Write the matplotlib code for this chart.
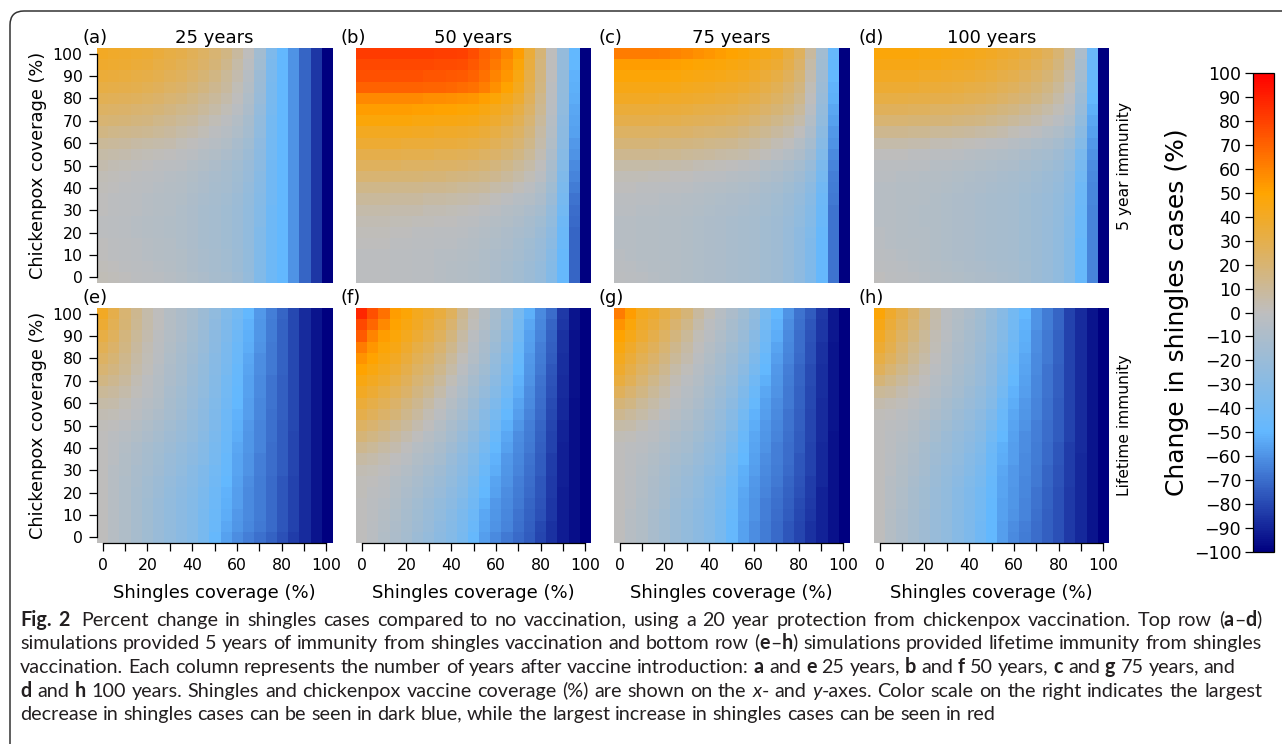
import math
import re
import numpy as np
import matplotlib
matplotlib.use("Agg")
import matplotlib.pyplot as plt
from matplotlib.colors import LinearSegmentedColormap, Normalize
from matplotlib.cm import ScalarMappable
from matplotlib.patches import FancyBboxPatch
from matplotlib.transforms import IdentityTransform
from matplotlib.font_manager import FontProperties

# ------------------------------------------------------------------
# DATA: percent change in shingles cases
# rows = chickenpox coverage 100 -> 0 (step 5), cols = shingles coverage 0 -> 100 (step 5)

coverage = list(range(0, 101, 5))
years = [25, 50, 75, 100]
letters = ["a", "b", "c", "d", "e", "f", "g", "h"]
immunity = ["5 year immunity", "Lifetime immunity"]

panel_a = [
    [40, 39, 38, 37, 36, 34, 32, 30, 27, 24, 20, 15, 8, 0, -15, -35, -50, -60, -72, -85, -100],
    [38, 37, 36, 35, 34, 32, 30, 28, 25, 22, 18, 13, 6, -2, -16, -36, -50, -60, -72, -85, -100],
    [35, 34, 33, 32, 31, 29, 27, 25, 22, 19, 15, 10, 4, -4, -18, -37, -50, -60, -72, -85, -100],
    [32, 31, 30, 29, 28, 26, 24, 22, 19, 16, 12, 8, 2, -6, -19, -38, -50, -60, -72, -85, -100],
    [28, 27, 26, 25, 24, 22, 20, 18, 15, 12, 9, 5, 0, -8, -20, -38, -50, -60, -72, -85, -100],
    [24, 23, 22, 21, 20, 18, 16, 14, 12, 9, 6, 2, -3, -10, -22, -39, -50, -60, -72, -85, -100],
    [20, 19, 18, 17, 16, 14, 12, 10, 8, 5, 2, -1, -6, -12, -24, -40, -50, -60, -72, -85, -100],
    [15, 14, 13, 12, 11, 10, 8, 6, 4, 2, -1, -4, -8, -14, -25, -40, -50, -60, -72, -85, -100],
    [10, 9, 8, 7, 6, 5, 4, 2, 0, -2, -4, -7, -11, -16, -26, -41, -50, -60, -72, -85, -100],
    [6, 5, 4, 3, 2, 1, 0, -1, -3, -5, -7, -10, -13, -18, -27, -41, -50, -60, -72, -85, -100],
    [4, 3, 2, 1, 0, -1, -2, -3, -5, -7, -9, -12, -15, -20, -28, -42, -50, -60, -72, -85, -100],
    [2, 1, 0, -1, -2, -3, -4, -5, -7, -9, -11, -13, -16, -21, -29, -42, -50, -60, -72, -85, -100],
    [1, 0, -1, -2, -3, -4, -5, -6, -8, -10, -12, -14, -17, -22, -30, -42, -50, -60, -72, -85, -100],
    [0, -1, -2, -3, -4, -5, -6, -7, -9, -11, -13, -15, -18, -23, -31, -42, -50, -60, -72, -85, -100],
    [0, -1, -2, -3, -4, -5, -6, -8, -10, -12, -14, -16, -19, -24, -32, -43, -50, -60, -72, -85, -100],
    [-1, -2, -3, -4, -5, -6, -7, -8, -10, -12, -14, -16, -19, -24, -32, -43, -50, -60, -72, -85, -100],
    [-1, -2, -3, -4, -5, -6, -7, -8, -10, -12, -14, -16, -19, -24, -33, -43, -50, -60, -72, -85, -100],
    [0, -1, -2, -3, -4, -5, -6, -8, -10, -12, -14, -16, -19, -24, -33, -43, -50, -60, -72, -85, -100],
    [0, -1, -2, -3, -4, -5, -6, -7, -9, -11, -13, -15, -18, -23, -33, -43, -50, -60, -72, -85, -100],
    [1, 0, -1, -2, -3, -4, -5, -7, -9, -11, -13, -15, -18, -23, -33, -43, -50, -60, -72, -85, -100],
    [2, 1, 0, -1, -2, -3, -4, -6, -8, -10, -12, -14, -17, -22, -33, -43, -50, -60, -72, -85, -100],
]

panel_b = [
    [82, 82, 82, 82, 82, 82, 82, 81, 81, 80, 76, 70, 66, 60, 52, 35, 18, 0, -22, -50, -100],
    [78, 78, 78, 78, 78, 78, 78, 77, 77, 76, 73, 68, 63, 57, 48, 33, 17, 0, -22, -50, -100],
    [75, 75, 75, 75, 75, 75, 74, 74, 73, 72, 70, 65, 60, 54, 45, 31, 16, 0, -23, -51, -100],
    [70, 70, 70, 70, 70, 70, 69, 69, 68, 67, 65, 61, 56, 50, 42, 29, 15, -1, -23, -52, -100],
    [58, 58, 58, 58, 58, 58, 57, 57, 56, 55, 54, 51, 48, 43, 37, 26, 13, -2, -24, -53, -100],
    [52, 52, 52, 52, 52, 51, 51, 50, 50, 49, 48, 45, 42, 38, 32, 23, 11, -3, -25, -54, -100],
    [47, 47, 47, 47, 47, 46, 46, 45, 45, 44, 43, 40, 37, 33, 28, 20, 9, -4, -26, -55, -100],
    [41, 41, 41, 41, 41, 40, 40, 39, 39, 38, 37, 35, 32, 28, 24, 17, 7, -5, -27, -56, -100],
    [36, 36, 36, 36, 35, 35, 35, 34, 34, 33, 32, 30, 27, 24, 20, 14, 5, -7, -28, -58, -100],
    [30, 30, 30, 30, 29, 29, 29, 28, 28, 27, 26, 24, 22, 19, 15, 10, 3, -9, -30, -60, -100],
    [25, 25, 25, 25, 24, 24, 24, 23, 23, 22, 21, 19, 17, 14, 10, 6, 0, -11, -32, -62, -100],
    [20, 20, 20, 19, 19, 19, 18, 18, 17, 16, 15, 14, 12, 9, 6, 2, -3, -13, -34, -64, -100],
    [14, 14, 14, 13, 13, 13, 12, 12, 11, 10, 9, 8, 6, 4, 1, -2, -7, -16, -36, -66, -100],
    [9, 9, 9, 8, 8, 8, 7, 7, 6, 5, 4, 3, 1, -1, -4, -6, -10, -19, -39, -68, -100],
    [5, 5, 5, 4, 4, 4, 3, 3, 2, 1, 0, -1, -3, -5, -7, -10, -13, -22, -41, -70, -100],
    [3, 3, 3, 2, 2, 1, 1, 0, 0, -1, -2, -4, -5, -7, -9, -12, -16, -24, -43, -71, -100],
    [1, 1, 1, 0, 0, -1, -1, -2, -2, -3, -4, -6, -7, -9, -11, -14, -18, -26, -45, -72, -100],
    [0, 0, 0, -1, -1, -2, -2, -3, -3, -4, -5, -7, -8, -10, -13, -16, -20, -28, -46, -72, -100],
    [-1, -1, -1, -2, -2, -3, -3, -4, -4, -5, -6, -8, -9, -11, -14, -17, -21, -30, -47, -72, -100],
    [-1, -1, -1, -2, -2, -3, -3, -4, -5, -6, -7, -8, -10, -12, -15, -18, -22, -31, -48, -72, -100],
    [-1, -1, -1, -2, -2, -3, -3, -4, -5, -6, -7, -8, -10, -12, -15, -18, -22, -32, -48, -72, -100],
]

panel_c = [
    [62, 62, 62, 62, 61, 60, 58, 56, 54, 52, 50, 48, 46, 43, 40, 33, 25, 8, -15, -48, -100],
    [52, 52, 52, 52, 52, 51, 50, 49, 48, 47, 46, 44, 42, 39, 36, 30, 22, 6, -16, -49, -100],
    [48, 48, 48, 48, 48, 47, 46, 45, 44, 43, 42, 40, 38, 35, 32, 26, 19, 4, -17, -50, -100],
    [44, 44, 44, 44, 44, 43, 42, 41, 40, 39, 38, 36, 34, 31, 28, 22, 16, 2, -18, -51, -100],
    [40, 40, 40, 40, 39, 39, 38, 37, 36, 35, 34, 32, 30, 27, 24, 19, 13, 0, -20, -52, -100],
    [35, 35, 35, 35, 34, 34, 33, 32, 31, 30, 29, 27, 25, 22, 19, 15, 9, -3, -22, -54, -100],
    [30, 30, 30, 30, 29, 29, 28, 27, 26, 25, 24, 22, 20, 17, 14, 10, 5, -6, -24, -56, -100],
    [24, 24, 24, 24, 23, 23, 22, 21, 20, 19, 18, 16, 14, 11, 8, 5, 0, -9, -27, -58, -100],
    [18, 18, 18, 18, 17, 17, 16, 15, 14, 13, 12, 10, 8, 6, 3, 0, -5, -13, -30, -60, -100],
    [12, 12, 12, 12, 11, 11, 10, 9, 8, 7, 6, 5, 3, 1, -2, -5, -9, -17, -33, -62, -100],
    [6, 6, 6, 6, 5, 5, 4, 3, 2, 1, 0, -1, -3, -5, -7, -10, -14, -21, -36, -64, -100],
    [2, 2, 2, 1, 1, 0, 0, -1, -2, -3, -4, -5, -6, -8, -10, -13, -17, -24, -39, -65, -100],
    [0, 0, -1, -1, -2, -2, -3, -4, -5, -6, -7, -8, -9, -11, -13, -16, -20, -27, -42, -66, -100],
    [-2, -2, -3, -3, -4, -4, -5, -6, -7, -8, -9, -10, -11, -13, -15, -18, -22, -29, -44, -67, -100],
    [-3, -3, -4, -4, -5, -5, -6, -7, -8, -9, -10, -11, -12, -14, -16, -19, -24, -31, -45, -68, -100],
    [-4, -4, -5, -5, -6, -6, -7, -8, -9, -10, -11, -12, -13, -15, -17, -20, -25, -32, -46, -68, -100],
    [-4, -4, -5, -5, -6, -6, -7, -8, -9, -10, -11, -12, -13, -15, -17, -21, -26, -33, -47, -68, -100],
    [-4, -4, -5, -5, -6, -6, -7, -8, -9, -10, -11, -12, -13, -15, -17, -21, -26, -34, -48, -68, -100],
    [-3, -4, -5, -5, -6, -6, -7, -8, -9, -10, -11, -12, -13, -15, -17, -21, -26, -34, -48, -68, -100],
    [-2, -3, -4, -5, -5, -6, -7, -8, -9, -10, -11, -12, -13, -15, -17, -21, -26, -34, -48, -68, -100],
    [-1, -2, -3, -4, -5, -6, -7, -8, -9, -10, -11, -12, -13, -15, -17, -21, -26, -34, -48, -68, -100],
]

panel_d = [
    [47, 47, 47, 47, 46, 46, 45, 44, 43, 42, 40, 38, 36, 33, 30, 26, 20, 10, -10, -45, -100],
    [44, 44, 44, 44, 43, 43, 42, 41, 40, 39, 37, 35, 33, 30, 27, 23, 17, 8, -12, -46, -100],
    [40, 40, 40, 40, 39, 39, 38, 37, 36, 35, 33, 31, 29, 26, 23, 19, 14, 5, -14, -47, -100],
    [36, 36, 36, 36, 35, 35, 34, 33, 32, 31, 29, 27, 25, 22, 19, 15, 10, 2, -16, -48, -100],
    [32, 32, 32, 31, 31, 30, 30, 29, 28, 27, 25, 23, 21, 18, 15, 11, 6, -1, -18, -50, -100],
    [26, 26, 26, 25, 25, 24, 24, 23, 22, 21, 19, 17, 15, 12, 9, 6, 2, -4, -21, -52, -100],
    [20, 20, 20, 19, 19, 18, 18, 17, 16, 15, 13, 11, 9, 7, 4, 1, -3, -8, -24, -54, -100],
    [12, 12, 12, 11, 11, 10, 10, 9, 8, 7, 6, 4, 2, 0, -2, -5, -8, -13, -28, -56, -100],
    [5, 5, 5, 4, 4, 3, 3, 2, 1, 0, -1, -2, -4, -6, -8, -10, -13, -18, -32, -58, -100],
    [0, 0, 0, -1, -1, -2, -2, -3, -4, -5, -6, -7, -8, -10, -12, -14, -17, -22, -36, -60, -100],
    [-2, -2, -2, -3, -3, -4, -4, -5, -6, -7, -8, -9, -10, -12, -14, -16, -19, -25, -39, -61, -100],
    [-3, -3, -4, -4, -5, -5, -6, -7, -8, -9, -10, -11, -12, -14, -16, -18, -21, -27, -41, -62, -100],
    [-4, -4, -5, -5, -6, -6, -7, -8, -9, -10, -11, -12, -13, -15, -17, -19, -22, -28, -43, -63, -100],
    [-4, -4, -5, -5, -6, -7, -8, -9, -10, -11, -12, -13, -14, -16, -18, -20, -23, -29, -44, -63, -100],
    [-4, -4, -5, -6, -7, -7, -8, -9, -10, -11, -12, -13, -14, -16, -18, -20, -24, -30, -45, -64, -100],
    [-4, -4, -5, -6, -7, -7, -8, -9, -10, -11, -12, -13, -14, -16, -18, -21, -24, -31, -46, -64, -100],
    [-3, -4, -5, -6, -6, -7, -8, -9, -10, -11, -12, -13, -14, -16, -18, -21, -25, -31, -46, -64, -100],
    [-3, -4, -5, -5, -6, -7, -8, -9, -10, -11, -12, -13, -14, -16, -18, -21, -25, -32, -47, -64, -100],
    [-2, -3, -4, -5, -6, -7, -8, -9, -10, -11, -12, -13, -14, -16, -18, -21, -25, -32, -47, -64, -100],
    [-1, -2, -3, -4, -5, -6, -7, -8, -9, -10, -11, -12, -13, -15, -18, -21, -25, -32, -47, -64, -100],
    [0, -1, -2, -3, -4, -5, -6, -7, -8, -9, -10, -11, -12, -15, -18, -21, -25, -32, -47, -64, -100],
]

panel_e = [
    [40, 30, 20, 12, 5, 0, -5, -9, -13, -18, -25, -33, -40, -50, -58, -65, -72, -80, -88, -94, -100],
    [36, 28, 19, 11, 5, 0, -5, -9, -14, -19, -26, -34, -42, -51, -59, -66, -73, -80, -88, -94, -100],
    [32, 25, 17, 10, 4, -1, -6, -10, -15, -20, -27, -35, -43, -52, -59, -66, -73, -80, -88, -94, -100],
    [28, 22, 15, 8, 3, -2, -7, -11, -16, -21, -28, -36, -45, -53, -60, -67, -73, -80, -88, -94, -100],
    [24, 19, 13, 7, 2, -3, -8, -12, -17, -22, -29, -37, -46, -54, -61, -67, -73, -80, -88, -94, -100],
    [20, 16, 11, 5, 1, -4, -9, -13, -18, -23, -30, -38, -47, -55, -61, -67, -73, -80, -88, -94, -100],
    [15, 12, 8, 3, -1, -5, -10, -14, -19, -24, -31, -40, -48, -56, -62, -68, -74, -80, -88, -94, -100],
    [10, 8, 5, 1, -2, -6, -11, -15, -20, -25, -32, -41, -49, -56, -62, -68, -74, -80, -88, -94, -100],
    [6, 5, 2, -1, -4, -7, -12, -16, -21, -26, -33, -42, -50, -57, -63, -68, -74, -80, -88, -94, -100],
    [3, 2, 0, -3, -6, -9, -13, -17, -22, -27, -34, -43, -51, -57, -63, -69, -74, -80, -88, -94, -100],
    [1, 0, -2, -5, -8, -11, -15, -19, -23, -28, -35, -44, -52, -58, -64, -69, -75, -80, -88, -94, -100],
    [0, -2, -4, -7, -10, -13, -17, -20, -24, -29, -36, -45, -53, -59, -64, -69, -75, -81, -88, -94, -100],
    [0, -3, -6, -9, -12, -15, -18, -22, -26, -31, -38, -46, -54, -59, -64, -70, -75, -81, -88, -94, -100],
    [0, -3, -7, -10, -13, -16, -20, -23, -27, -32, -39, -47, -55, -60, -65, -70, -75, -81, -88, -94, -100],
    [0, -4, -7, -11, -14, -17, -21, -25, -29, -34, -41, -48, -55, -60, -65, -70, -75, -81, -88, -94, -100],
    [0, -4, -8, -11, -15, -18, -22, -26, -30, -35, -42, -50, -56, -61, -66, -71, -76, -82, -88, -94, -100],
    [0, -4, -8, -12, -15, -19, -23, -27, -31, -36, -43, -51, -57, -62, -66, -71, -76, -82, -88, -94, -100],
    [0, -4, -8, -12, -16, -20, -24, -28, -32, -37, -44, -52, -57, -62, -66, -71, -76, -82, -88, -94, -100],
    [0, -4, -8, -12, -16, -20, -24, -28, -32, -38, -45, -53, -58, -62, -66, -71, -76, -82, -88, -94, -100],
    [0, -4, -8, -12, -16, -20, -24, -28, -32, -38, -46, -54, -59, -63, -67, -71, -76, -82, -88, -94, -100],
    [0, -4, -8, -12, -16, -20, -24, -28, -32, -38, -48, -56, -61, -65, -69, -73, -78, -83, -88, -94, -100],
]

panel_f = [
    [88, 75, 65, 52, 48, 42, 38, 33, 25, 12, 3, -5, -12, -22, -38, -52, -62, -70, -84, -94, -100],
    [78, 68, 58, 50, 45, 40, 35, 29, 21, 10, 1, -7, -14, -24, -40, -54, -63, -72, -85, -94, -100],
    [72, 60, 52, 47, 42, 36, 31, 25, 17, 7, -2, -9, -16, -27, -42, -56, -64, -73, -86, -95, -100],
    [62, 54, 48, 44, 38, 32, 27, 21, 13, 4, -4, -11, -19, -30, -45, -57, -65, -74, -86, -95, -100],
    [55, 50, 45, 40, 34, 28, 23, 17, 9, 1, -6, -13, -22, -33, -47, -58, -66, -75, -87, -95, -100],
    [50, 46, 41, 36, 30, 24, 19, 13, 6, -2, -9, -16, -25, -36, -49, -59, -67, -76, -87, -95, -100],
    [45, 41, 37, 32, 26, 20, 15, 9, 2, -5, -12, -19, -28, -39, -51, -60, -68, -77, -88, -95, -100],
    [40, 36, 32, 27, 22, 16, 11, 5, -2, -8, -15, -22, -31, -42, -53, -61, -69, -78, -88, -95, -100],
    [35, 31, 27, 22, 17, 12, 7, 1, -5, -11, -18, -26, -35, -46, -55, -62, -70, -79, -89, -96, -100],
    [30, 26, 22, 18, 13, 8, 3, -2, -8, -14, -21, -29, -38, -49, -57, -64, -71, -80, -89, -96, -100],
    [24, 21, 17, 13, 9, 4, 0, -5, -11, -17, -24, -32, -42, -52, -59, -65, -72, -81, -90, -96, -100],
    [18, 15, 12, 8, 4, 0, -4, -8, -14, -20, -27, -35, -46, -54, -61, -66, -73, -82, -90, -96, -100],
    [12, 10, 7, 4, 0, -4, -7, -11, -17, -23, -30, -39, -49, -56, -62, -67, -74, -82, -91, -96, -100],
    [7, 5, 3, 0, -3, -7, -10, -14, -20, -26, -33, -42, -51, -58, -63, -68, -75, -83, -91, -96, -100],
    [3, 2, 0, -3, -6, -9, -13, -17, -22, -28, -35, -45, -53, -59, -64, -69, -75, -83, -91, -96, -100],
    [1, 0, -2, -5, -8, -11, -15, -19, -24, -30, -38, -48, -55, -60, -65, -70, -76, -84, -91, -96, -100],
    [1, -1, -3, -6, -10, -13, -17, -21, -26, -32, -40, -50, -56, -61, -66, -71, -76, -84, -92, -96, -100],
    [0, -2, -4, -7, -11, -15, -19, -23, -28, -34, -42, -52, -58, -62, -67, -72, -77, -85, -92, -96, -100],
    [0, -2, -5, -8, -12, -16, -20, -25, -30, -36, -44, -54, -59, -63, -68, -73, -78, -85, -92, -96, -100],
    [0, -3, -6, -9, -13, -17, -21, -26, -31, -37, -46, -55, -60, -64, -69, -74, -80, -86, -92, -96, -100],
    [0, -3, -7, -10, -14, -18, -22, -27, -32, -38, -48, -57, -62, -67, -71, -75, -81, -86, -92, -96, -100],
]

panel_g = [
    [62, 52, 42, 38, 32, 25, 18, 8, 2, -4, -10, -16, -24, -38, -50, -60, -68, -75, -84, -93, -100],
    [55, 47, 39, 34, 28, 21, 14, 5, -1, -6, -12, -18, -26, -40, -51, -61, -69, -76, -85, -93, -100],
    [50, 43, 36, 30, 24, 17, 10, 2, -3, -8, -14, -20, -29, -42, -53, -62, -70, -77, -85, -93, -100],
    [46, 39, 32, 26, 20, 13, 7, 0, -5, -10, -16, -22, -32, -44, -55, -63, -70, -78, -86, -94, -100],
    [42, 35, 28, 22, 16, 10, 4, -2, -7, -12, -18, -25, -35, -47, -57, -64, -71, -78, -86, -94, -100],
    [38, 31, 24, 18, 12, 6, 1, -4, -9, -14, -20, -28, -38, -50, -58, -65, -72, -79, -87, -94, -100],
    [33, 27, 20, 14, 8, 3, -2, -6, -11, -16, -22, -31, -42, -52, -59, -66, -72, -79, -87, -94, -100],
    [26, 21, 15, 10, 5, 0, -4, -8, -13, -18, -25, -34, -45, -54, -60, -67, -73, -80, -87, -94, -100],
    [18, 15, 10, 6, 2, -2, -6, -10, -15, -20, -27, -37, -48, -56, -61, -67, -73, -80, -88, -94, -100],
    [12, 9, 6, 3, -1, -4, -8, -12, -17, -22, -30, -40, -51, -57, -62, -68, -74, -81, -88, -94, -100],
    [6, 5, 2, -1, -4, -7, -10, -14, -19, -24, -32, -43, -53, -58, -63, -68, -74, -81, -88, -94, -100],
    [2, 1, -1, -3, -6, -9, -12, -16, -21, -26, -35, -46, -54, -59, -64, -69, -75, -81, -88, -95, -100],
    [0, -1, -3, -5, -8, -11, -14, -18, -23, -28, -37, -48, -55, -60, -65, -70, -75, -82, -89, -95, -100],
    [0, -2, -4, -7, -10, -13, -16, -20, -25, -30, -40, -50, -56, -61, -65, -70, -76, -82, -89, -95, -100],
    [0, -2, -5, -8, -11, -15, -18, -22, -27, -32, -42, -52, -57, -62, -66, -71, -76, -82, -89, -95, -100],
    [0, -3, -6, -9, -12, -16, -20, -24, -29, -34, -44, -53, -58, -63, -67, -72, -77, -83, -89, -95, -100],
    [0, -3, -6, -10, -13, -17, -21, -25, -30, -36, -45, -54, -59, -64, -68, -73, -78, -83, -90, -95, -100],
    [0, -3, -7, -10, -14, -18, -22, -26, -31, -37, -46, -55, -60, -65, -69, -74, -79, -84, -90, -95, -100],
    [0, -4, -7, -11, -15, -19, -23, -27, -32, -38, -47, -55, -60, -65, -70, -75, -80, -85, -90, -95, -100],
    [0, -4, -7, -11, -15, -19, -23, -27, -32, -38, -48, -56, -61, -66, -71, -76, -81, -86, -90, -95, -100],
    [0, -4, -7, -11, -15, -19, -23, -27, -32, -38, -48, -56, -61, -66, -71, -76, -81, -86, -90, -95, -100],
]

panel_h = [
    [48, 38, 30, 22, 14, 5, -2, -6, -10, -15, -22, -30, -40, -50, -60, -66, -72, -82, -88, -94, -100],
    [44, 35, 27, 20, 12, 4, -3, -7, -11, -16, -23, -31, -41, -51, -60, -66, -72, -82, -88, -94, -100],
    [40, 32, 24, 17, 10, 3, -3, -8, -12, -17, -24, -32, -42, -52, -61, -67, -73, -82, -88, -94, -100],
    [36, 29, 21, 14, 8, 2, -4, -9, -13, -18, -25, -33, -43, -53, -61, -67, -73, -82, -88, -94, -100],
    [32, 25, 18, 11, 6, 0, -5, -10, -14, -19, -26, -35, -45, -54, -62, -67, -73, -82, -88, -94, -100],
    [26, 20, 14, 8, 3, -2, -6, -11, -15, -20, -27, -36, -47, -55, -62, -68, -74, -82, -88, -94, -100],
    [18, 14, 9, 4, 0, -4, -8, -12, -16, -21, -28, -38, -49, -56, -63, -68, -74, -82, -88, -94, -100],
    [10, 8, 4, 1, -2, -6, -10, -14, -18, -23, -30, -40, -51, -57, -63, -68, -74, -82, -88, -94, -100],
    [4, 3, 1, -2, -5, -8, -12, -16, -20, -25, -32, -43, -53, -58, -64, -69, -75, -82, -88, -94, -100],
    [1, 0, -2, -4, -7, -10, -14, -18, -22, -27, -35, -46, -54, -59, -64, -69, -75, -82, -88, -94, -100],
    [0, -1, -3, -6, -9, -12, -16, -20, -24, -29, -38, -48, -55, -60, -65, -70, -75, -82, -88, -94, -100],
    [0, -2, -4, -7, -10, -14, -18, -22, -26, -31, -41, -50, -56, -61, -65, -70, -75, -82, -88, -94, -100],
    [0, -2, -5, -8, -12, -16, -19, -23, -28, -33, -43, -52, -57, -61, -66, -71, -76, -83, -88, -94, -100],
    [0, -3, -6, -9, -13, -17, -21, -25, -30, -35, -45, -53, -57, -62, -66, -71, -76, -83, -89, -94, -100],
    [0, -3, -7, -10, -14, -18, -22, -26, -31, -37, -46, -54, -58, -62, -67, -72, -77, -83, -89, -94, -100],
    [0, -4, -7, -11, -15, -19, -23, -28, -33, -38, -47, -55, -58, -63, -67, -72, -77, -83, -89, -94, -100],
    [0, -4, -8, -12, -16, -20, -24, -29, -34, -40, -48, -55, -59, -63, -68, -73, -78, -84, -89, -94, -100],
    [0, -4, -8, -12, -16, -20, -24, -29, -34, -40, -49, -56, -59, -64, -68, -73, -78, -84, -89, -94, -100],
    [0, -5, -9, -13, -17, -21, -25, -30, -35, -41, -50, -56, -60, -64, -69, -74, -78, -84, -89, -94, -100],
    [0, -5, -9, -13, -17, -21, -25, -30, -35, -42, -50, -57, -61, -65, -70, -74, -78, -84, -89, -94, -100],
    [0, -5, -9, -13, -17, -21, -25, -30, -35, -42, -50, -57, -62, -66, -70, -74, -78, -84, -89, -94, -100],
]

panels = [panel_a, panel_b, panel_c, panel_d, panel_e, panel_f, panel_g, panel_h]

# caption: (text, style) pieces, style b = bold, i = italic, r = regular
caption = [
    [("Fig. 2", "b"), ("  Percent change in shingles cases compared to no vaccination, using a 20 year "
                       "protection from chickenpox vaccination. Top row (", "r"),
     ("a", "b"), ("\u2013", "r"), ("d", "b"), (")", "r")],
    [("simulations provided 5 years of immunity from shingles vaccination and bottom row (", "r"),
     ("e", "b"), ("\u2013", "r"), ("h", "b"),
     (") simulations provided lifetime immunity from shingles", "r")],
    [("vaccination. Each column represents the number of years after vaccine introduction:", "r"),
     (" a", "b"), (" and", "r"), (" e", "b"), (" 25 years,", "r"), (" b", "b"), (" and", "r"),
     (" f", "b"), (" 50 years,", "r"), (" c", "b"), (" and", "r"), (" g", "b"),
     (" 75 years, and", "r")],
    [("d", "b"), (" and", "r"), (" h", "b"),
     (" 100 years. Shingles and chickenpox vaccine coverage (%) are shown on the", "r"),
     (" x", "i"), ("- and", "r"), (" y", "i"),
     ("-axes. Color scale on the right indicates the largest", "r")],
    [("decrease in shingles cases can be seen in dark blue, while the largest increase in "
      "shingles cases can be seen in red", "r")],
]
justified = [True, True, False, True, False]

# ------------------------------------------------------------------
# FIGURE (layout in pixels of a 1282x744 image)

W, H = 1282, 744
plt.rcParams["font.family"] = "DejaVu Sans"
fig = plt.figure(figsize=(W / 100, H / 100), dpi=100)

cmap = LinearSegmentedColormap.from_list(
    "shingles", ["#000080", "#63B8FF", "#BEBEBE", "#FFA500", "#FF0000"])
norm = Normalize(vmin=-100, vmax=100)


def axes_px(left, top, width, height):
    return fig.add_axes([left / W, 1 - (top + height) / H, width / W, height / H])


def text_px(x, y, s, **kw):
    return fig.text(x / W, 1 - y / H, s, **kw)


col_left = [97, 356, 614, 874]
row_top = [48, 308]
side = 235
half = (coverage[1] - coverage[0]) / 2

for i, data in enumerate(panels):
    r, c = divmod(i, 4)
    ax = axes_px(col_left[c], row_top[r], side, side)
    ax.imshow(np.array(data), cmap=cmap, norm=norm, origin="upper", aspect="auto",
              interpolation="nearest",
              extent=(coverage[0] - half, coverage[-1] + half,
                      coverage[0] - half, coverage[-1] + half))
    for s in ax.spines.values():
        s.set_visible(False)
    ax.set_xticks([])
    ax.set_yticks([])
    if c == 0:
        ax.spines["left"].set_visible(True)
        ax.spines["left"].set_bounds(0, 100)
        ax.spines["left"].set_linewidth(0.9)
        ax.set_yticks(range(0, 101, 10))
        ax.tick_params(axis="y", length=5.5, width=0.9, pad=5, labelsize=11.3)
    if r == 1:
        ax.spines["bottom"].set_visible(True)
        ax.spines["bottom"].set_bounds(0, 100)
        ax.spines["bottom"].set_linewidth(0.9)
        ax.set_xticks(range(0, 101, 10))
        ax.set_xticklabels([str(v) if v % 20 == 0 else "" for v in range(0, 101, 10)])
        ax.tick_params(axis="x", length=5.5, width=0.9, pad=5, labelsize=11.3)
        text_px(col_left[c] + side / 2, 593, "Shingles coverage (%)",
                fontsize=13, ha="center", va="center")
    ty = row_top[r] - 10
    text_px(col_left[c] - 15, ty, "(%s)" % letters[i], fontsize=13, ha="left", va="center")
    if r == 0:
        text_px(col_left[c] + side / 2, ty, "%d years" % years[c],
                fontsize=13, ha="center", va="center")

for r in range(2):
    cy = row_top[r] + side / 2
    text_px(38, cy, "Chickenpox coverage (%)", rotation=90, fontsize=12.8,
            ha="center", va="center")
    text_px(1124, cy, immunity[r], rotation=90, fontsize=11.2, ha="center", va="center")

# colour bar
cax = axes_px(1253, 73, 21, 479)
cb = fig.colorbar(ScalarMappable(norm=norm, cmap=cmap), cax=cax, ticks=range(-100, 101, 10))
cax.yaxis.set_ticks_position("left")
cax.tick_params(length=5.5, width=0.9, pad=3, labelsize=12.5)
cb.outline.set_linewidth(0.9)
text_px(1177, 312, "Change in shingles cases (%)", rotation=90, fontsize=18,
        ha="center", va="center")

# outer frame with rounded corner
frame = FancyBboxPatch((10, -30), 1320, H - 11 + 30, boxstyle="round,pad=0,rounding_size=14",
                       transform=IdentityTransform(), fill=False, edgecolor="#333333",
                       linewidth=1.1)
fig.add_artist(frame)

# caption, set word by word so that full lines can be justified
cap_font = "Lato"
cap_color = "#231f20"
cap_left, cap_right = 20, 1262
cap_base = [626, 649, 673, 697, 720]
renderer = fig.canvas.get_renderer()


def props(size, st):
    return FontProperties(family=cap_font, size=size,
                          weight="bold" if st == "b" else "normal",
                          style="italic" if st == "i" else "normal")


def metrics(s, size, st):
    return renderer.get_text_width_height_descent(s, props(size, st), ismath=False)


def words_of(parts):
    out = []
    for seg, st in parts:
        for sp, w in re.findall(r"( *)([^ ]+)", seg):
            out.append((w, st, len(sp)))
    return out


def space_w(size):
    return metrics("a a", size, "r")[0] - metrics("aa", size, "r")[0]


def natural_width(words, size):
    return (sum(metrics(w, size, st)[0] for w, st, _ in words)
            + space_w(size) * sum(n for _, _, n in words))


lines = [words_of(p) for p in caption]
cap_size = min(10 * (cap_right - cap_left) / natural_width(ws, 10)
               for ws, j in zip(lines, justified) if j)
space = space_w(cap_size)

for ws, yb, just in zip(lines, cap_base, justified):
    gaps = sum(1 for _, _, n in ws if n > 0)
    extra = 0.0
    if just and gaps:
        extra = (cap_right - cap_left - natural_width(ws, cap_size)) / gaps
    x = cap_left
    for w, st, n in ws:
        wd, hh, dd = metrics(w, cap_size, st)
        if n > 0:
            x += n * space + extra
        # small shift so every word's raster lands on the same baseline row
        shift = math.floor(hh) - math.floor(hh - dd) - dd
        text_px(x, yb + shift, w, fontproperties=props(cap_size, st), color=cap_color,
                ha="left", va="baseline")
        x += wd

fig.savefig("out.png", dpi=100)
